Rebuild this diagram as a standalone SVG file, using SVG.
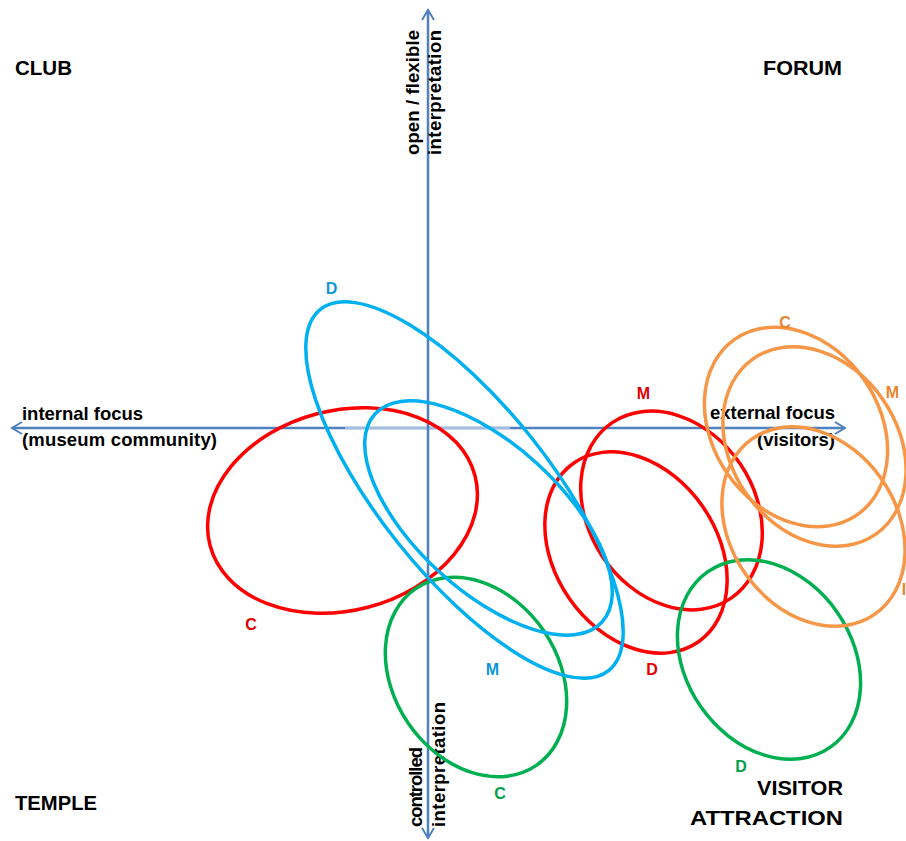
<svg xmlns="http://www.w3.org/2000/svg" width="906" height="841" viewBox="0 0 906 841">
<style>
.ax{stroke:#4f81bd;stroke-width:2.5;fill:none}
.el{fill:none;stroke-width:3.5}
.red{stroke:#ff0000}.grn{stroke:#00b050}.org{stroke:#f79646}.blu{stroke:#00b0f0}
.corner{font-family:"Liberation Sans",Arial,sans-serif;font-size:21px;font-weight:bold;fill:#000}
.axl{font-family:"Liberation Sans",Arial,sans-serif;font-size:18.5px;font-weight:bold;fill:#000}
.lab{font-family:"Liberation Sans",Arial,sans-serif;font-size:16px;font-weight:bold;text-anchor:middle}
.tr{fill:#e00000}.tg{fill:#00a048}.to{fill:#e8862e}.tb{fill:#0a96d8}
</style>
<defs>
<marker id="arr" viewBox="-12 -8 14 16" markerWidth="14" markerHeight="16" refX="0" refY="0" orient="auto" markerUnits="userSpaceOnUse">
<path d="M -10 -6 L 0 0 L -10 6" fill="none" stroke="#4f81bd" stroke-width="2"/>
</marker>
</defs>
<g id="connectors">
<line class="ax" x1="428" y1="428" x2="845" y2="428" marker-end="url(#arr)"/>
<line class="ax" x1="428" y1="428" x2="12" y2="428" marker-end="url(#arr)"/>
<line x1="345" y1="428" x2="510" y2="428" stroke="#a3bde0" stroke-width="2.5"/>
<line class="ax" x1="428" y1="428" x2="428" y2="10" marker-end="url(#arr)"/>
<line class="ax" x1="428" y1="428" x2="428" y2="838" marker-end="url(#arr)"/>
</g>
<g id="axis-labels">
<text class="axl" x="22" y="420" textLength="121">internal focus</text>
<text class="axl" x="22" y="446" textLength="195">(museum community)</text>
<text class="axl" x="710" y="419" textLength="125">external focus</text>
<text class="axl" x="757" y="446" textLength="78">(visitors)</text>
<text class="axl" transform="translate(419,155) rotate(-90)" textLength="125">open / flexible</text>
<text class="axl" transform="translate(441,155) rotate(-90)" textLength="125">interpretation</text>
<text class="axl" transform="translate(422,827) rotate(-90)" textLength="80">controlled</text>
<text class="axl" transform="translate(445,827) rotate(-90)" textLength="125">interpretation</text>
</g>
<g id="corners">
<text class="corner" x="15" y="75" textLength="57" lengthAdjust="spacingAndGlyphs">CLUB</text>
<text class="corner" x="763" y="75" textLength="79" lengthAdjust="spacingAndGlyphs">FORUM</text>
<text class="corner" x="15" y="810" textLength="82" lengthAdjust="spacingAndGlyphs">TEMPLE</text>
<text class="corner" x="757" y="795" textLength="86" lengthAdjust="spacingAndGlyphs">VISITOR</text>
<text class="corner" x="690" y="825" textLength="153" lengthAdjust="spacingAndGlyphs">ATTRACTION</text>
</g>
<g id="red-C"><ellipse class="el red" cx="342.5" cy="510.5" rx="137" ry="100" transform="rotate(-14.7 342.5 510.5)"/><text class="lab tr" x="251" y="630">C</text></g>
<g id="red-M"><ellipse class="el red" cx="671.5" cy="510.5" rx="106" ry="83" transform="rotate(56 671.5 510.5)"/><text class="lab tr" x="643.5" y="399">M</text></g>
<g id="red-D"><ellipse class="el red" cx="636" cy="552.5" rx="109" ry="81" transform="rotate(55 636 552.5)"/><text class="lab tr" x="652" y="675">D</text></g>
<g id="green-C"><ellipse class="el grn" cx="476" cy="677" rx="107" ry="82" transform="rotate(55.7 476 677)"/><text class="lab tg" x="500" y="799">C</text></g>
<g id="green-D"><ellipse class="el grn" cx="769" cy="659.5" rx="107" ry="83" transform="rotate(55 769 659.5)"/><text class="lab tg" x="741" y="772">D</text></g>
<g id="orange-C"><ellipse class="el org" cx="796" cy="427" rx="107" ry="83" transform="rotate(55 796 427)"/><text class="lab to" x="785" y="328">C</text></g>
<g id="orange-M"><ellipse class="el org" cx="814.5" cy="446.5" rx="107" ry="83" transform="rotate(55 814.5 446.5)"/><text class="lab to" x="892.5" y="398">M</text></g>
<g id="orange-I"><ellipse class="el org" cx="813.5" cy="526.5" rx="107" ry="83" transform="rotate(55 813.5 526.5)"/><text class="lab to" x="904" y="595">I</text></g>
<g id="blue-D"><ellipse class="el blu" cx="464.5" cy="490" rx="231" ry="85" transform="rotate(51.4 464.5 490)"/><text class="lab tb" x="331.5" y="294">D</text></g>
<g id="blue-M"><ellipse class="el blu" cx="488.5" cy="518" rx="154" ry="73" transform="rotate(42.5 488.5 518)"/><text class="lab tb" x="492.5" y="675">M</text></g>
</svg>
